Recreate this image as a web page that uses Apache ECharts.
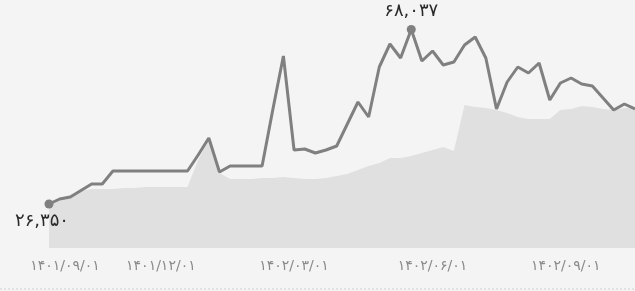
<!DOCTYPE html>
<html>
<head>
<meta charset="utf-8">
<script src="https://cdn.jsdelivr.net/npm/echarts@6/dist/echarts.min.js"></script>
<style>
html,body{margin:0;padding:0;background:#f4f4f4;}
#c{width:635px;height:291px;}
</style>
</head>
<body>
<div id="c"></div>
<script>
// price line (each point is one sample, index on x axis)
const priceValues = [26350,27545,28022,29575,31128,31128,34234,34234,34234,34234,34234,34234,34234,34234,38056,42117,33995,35428,35428,35428,35428,48807,61707,39251,39490,38534,39251,40206,45462,50718,47134,59079,64574,61229,68037,60513,62902,59557,60274,64335,66246,61229,49046,55496,59079,57646,60035,51196,55257,56451,55018,54540,51673,48807,50240,49046];
// background area series
const areaValues = [26589,27783,28500,29456,29934,29934,29934,30172,30172,30411,30411,30411,30411,30411,36862,41640,33756,32323,32323,32323,32561,32561,32800,32561,32323,32323,32561,33039,33517,34473,35428,36145,37339,37339,37817,38534,39251,39967,39012,50001,49523,49284,48807,48090,47134,46657,46657,46657,48807,49046,49762,49523,49046,48807,49284,49284];
// x-axis tick labels and where they fall along the sample index
const tickLabels = ['۱۴۰۱/۰۹/۰۱','۱۴۰۱/۱۲/۰۱','۱۴۰۲/۰۳/۰۱','۱۴۰۲/۰۶/۰۱','۱۴۰۲/۰۹/۰۱'];
const tickIndex = [1.5, 10.5, 23, 36, 48.5];

const fa = '۰۱۲۳۴۵۶۷۸۹';
function toFa(s){ return String(s).replace(/[0-9]/g, d => fa[+d]); }
function fmtNum(v){ return toFa(Math.round(v).toLocaleString('en-US')); }

const chart = echarts.init(document.getElementById('c'), null, {renderer:'canvas'});
chart.setOption({
  backgroundColor:'#f4f4f4',
  animation:false,
  textStyle:{fontFamily:'DejaVu Sans'},
  grid:{left:49, right:0, top:0, bottom:43},
  xAxis:{
    type:'value', min:0, max:priceValues.length-1,
    axisLine:{show:false}, axisTick:{show:false}, splitLine:{show:false},
    axisLabel:{
      customValues:tickIndex,
      color:'#8a8a8a', fontSize:14, margin:11, fontFamily:'DejaVu Sans',
      formatter:(v)=>{ const k=tickIndex.indexOf(v); return k>=0?tickLabels[k]:''; }
    }
  },
  yAxis:{
    type:'value', min:15838, max:75086,
    show:false, splitLine:{show:false}
  },
  series:[
    {
      type:'line', data:areaValues.map((v,i)=>[i,v]),
      showSymbol:false, silent:true,
      lineStyle:{width:0, color:'#e0e0e0'},
      areaStyle:{color:'#e0e0e0', opacity:1},
      z:1
    },
    {
      type:'line', data:priceValues.map((v,i)=>[i,v]),
      showSymbol:false,
      lineStyle:{width:3, color:'#808080'},
      itemStyle:{color:'#808080'},
      z:2,
      markPoint:{
        symbol:'circle', symbolSize:9,
        itemStyle:{color:'#808080'},
        label:{color:'#2a2a2a', fontSize:18, fontFamily:'DejaVu Sans', formatter:(p)=>fmtNum(p.value)},
        data:[
          {type:'max', valueDim:'y', label:{position:'top', distance:5}},
          {type:'min', valueDim:'y', label:{position:'bottom', distance:4, offset:[-7,0]}}
        ]
      }
    }
  ],
  graphic:[{
    type:'line', shape:{x1:0,y1:289,x2:635,y2:289},
    style:{stroke:'#d0d0d0', lineWidth:1, lineDash:[2,2]}
  }]
});
</script>
</body>
</html>
